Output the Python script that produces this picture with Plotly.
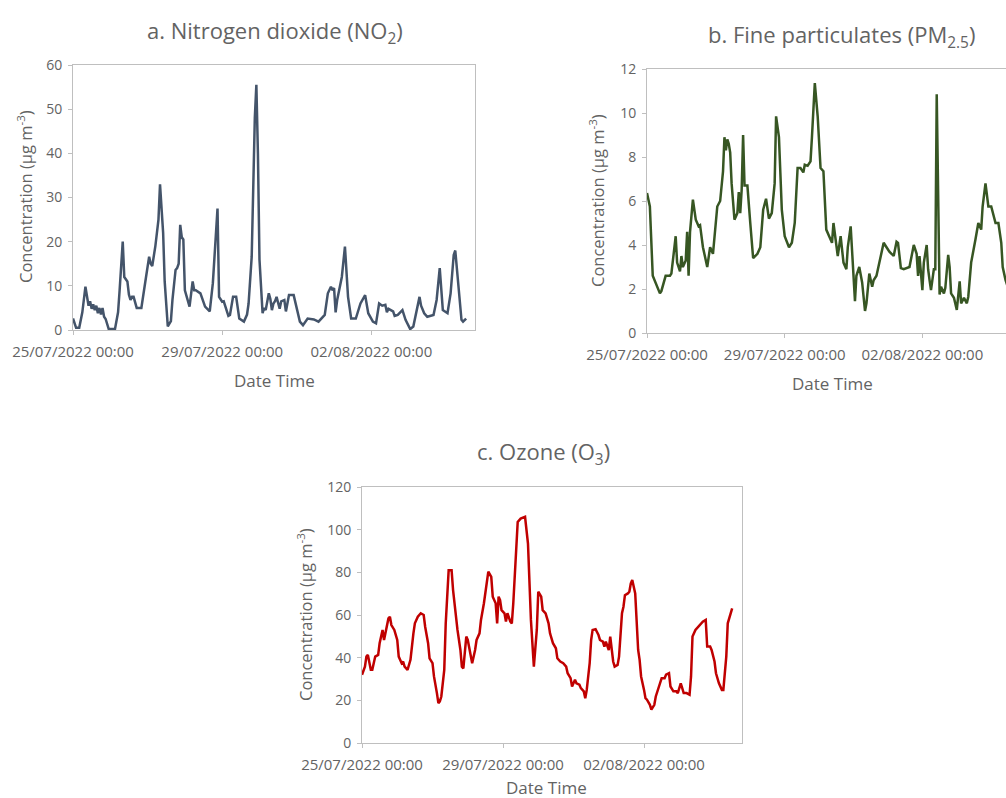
import pandas as pd
import plotly.graph_objects as go

W, H = 1006, 798
BASE = pd.Timestamp("2022-07-25 00:00")

# ---------------- data (hours after 25/07/2022 00:00, concentration µg m-3) ----------------
no2_hours = [0,2,4,6,8,9,10,11,12,13,14,15,16,17,18,19,20,21,22,23,27,29,30,32,33,35,36,37,38,39,41,44,47,49,50,51,53,55,56,57,58,59,61,63,64,66,67,68,69,70,71,72,75,77,78,79,82,85,88,90,92,93,94,96,97,99,100,101,103,105,107,110,112,113,115,117,118,119,120,122,123,124,125,126,127,128,129,130,131,132,133,134,136,137,139,142,144,146,148,151,155,158,162,164,166,167,168,169,170,173,175,177,179,182,185,188,190,193,195,197,199,201,202,203,206,207,209,212,214,217,219,221,223,224,226,228,232,234,236,238,241,243,245,246,248,250,251,253]
no2_values = [2.6,0.5,0.5,4,9.8,8,5.5,6.5,4.8,5.8,4.5,5.5,3.8,5,3.5,5,3,2.5,1.2,0.2,0.2,4,9,20,12,11,8,6.8,7.5,7.5,5,5,12,16.6,15,14.5,19,25,33,26,22,11,0.8,2,6.8,13.6,14,15,23.8,21,20.5,9,5.3,11,9,9,8.3,5.3,4.2,10.6,22,27.5,7.5,6.4,6.5,4.5,3.2,3.4,7.5,7.5,2.6,1.9,3.5,6,16.6,48,55.5,40,16,3.8,5,4.5,7,8.3,7,4.5,6,6.5,7.5,6,4.8,6.5,6.8,4.2,7.9,7.9,4.5,1.9,1.1,2.6,2.4,1.9,3.4,8.3,9.8,9,9.5,4,6.8,12,18.9,7.5,2.6,2.6,6,7.9,3.8,1.9,1.5,6,5.5,5.7,4,4.8,4.2,3.2,3.4,4.5,2.3,0.2,0.8,4.5,7.5,5.5,3.8,3,3.4,6.8,14,4.5,3.8,8.3,17,18,10.6,2.3,1.9,2.6]

pm25_hours = [0,2,4,6,9,10,13,16,17,20,21,23,24,25,27,28,29,30,32,34,36,37,39,42,44,46,49,51,53,54,55,56,57,58,59,61,63,64,65,66,67,68,70,72,74,77,79,81,83,85,87,89,90,92,94,96,99,101,103,105,107,109,110,112,114,115,117,119,121,123,124,125,127,129,130,132,133,135,137,139,140,142,143,145,146,148,150,152,153,155,157,158,160,162,165,167,169,172,174,175,177,179,181,183,186,188,189,190,192,193,195,196,197,198,200,201,202,204,205,207,208,210,211,212,214,216,218,219,221,223,224,226,229,231,233,234,236,238,240,243,245,247,248,250,252]
pm25_values = [6.36,5.75,2.6,2.3,1.8,1.9,2.6,2.6,2.7,4.4,3.2,2.8,3.5,3.0,3.3,4.6,2.6,4.6,6.06,5.15,4.85,4.9,3.9,3.0,3.9,3.6,5.75,6.0,7.35,8.9,8.3,8.8,8.6,8.2,6.8,5.15,5.45,6.4,5.45,6.5,9.0,6.7,6.7,5.0,3.4,3.6,3.9,5.6,6.1,5.2,5.45,6.8,9.85,8.9,5.6,4.4,3.9,4.1,5.0,7.5,7.5,7.3,7.65,7.6,7.8,8.9,11.36,9.85,7.5,7.35,5.75,4.7,4.4,4.1,5.0,3.8,3.5,4.4,3.2,2.9,3.9,4.85,3.8,1.45,2.6,3.0,2.3,1.0,1.35,2.7,2.1,2.4,2.6,3.2,4.1,3.9,3.7,3.5,4.15,4.1,2.95,2.9,2.95,3.0,4.0,3.6,2.6,3.5,1.95,3.2,4.0,2.9,2.4,1.95,2.9,2.9,10.85,1.75,2.1,1.8,2.05,3.55,3.0,1.8,1.6,1.05,2.35,1.35,1.6,1.35,1.65,3.2,4.25,5.0,4.7,5.75,6.8,5.75,5.75,5.0,5.0,4.1,3.0,2.4,2.0]

o3_hours = [0,2,3,4,6,7,9,11,12,14,15,17,18,19,20,22,24,25,27,28,29,31,32,33,35,36,38,40,42,43,45,46,48,49,51,52,53,54,56,57,59,61,62,64,65,67,68,69,71,72,74,75,77,78,80,81,83,85,86,88,89,91,92,93,94,95,97,98,99,101,102,103,105,106,108,110,111,113,114,115,117,119,120,122,123,125,127,128,130,132,133,135,137,139,140,142,143,145,146,148,149,151,152,153,155,156,157,159,161,162,164,165,166,168,169,170,171,172,174,175,177,178,179,181,182,183,184,186,187,188,189,190,192,193,194,196,197,199,200,202,204,206,207,209,210,212,214,215,217,218,219,221,223,224,225,227,229,231,232,234,235,237,238,240,241,243,245,246,248,249,251,252]
o3_values = [32,35.8,40.5,41.3,34.3,34.3,40.5,41.3,46.8,53,48.3,54.5,58.4,59.2,55.3,53,48.3,40.5,37.4,38.2,35.8,34.3,37.4,39,51.4,56.1,59.2,60.8,60,54.5,46.8,39.7,37.4,31.2,23.4,18.7,19.5,21.8,34.3,56.1,81,81,71.7,57.7,53,43.6,35.8,35,49.9,48.3,40.5,37.4,43.6,48.3,51.4,57.7,65.5,74.8,80.3,77.9,68.6,65.5,56.1,68.6,67,62.3,60.8,56.9,60.8,56.9,56.1,65.5,93.5,103.6,105.2,106,106,93.5,77.9,57.7,35.8,53,70.9,68.6,62.3,60.8,56.1,51.4,46.8,44.4,39.7,38.2,37.4,35.8,32.7,30.4,26.5,29.6,28,27.3,25.7,24.2,21,24.9,37.4,48.3,53,53.3,50.6,48.3,47.5,45.2,47.5,43.6,49.9,42.9,38.2,35.8,36.6,40.5,60.8,63.9,69.3,70.1,70.9,74.8,76.4,70.1,57.7,43.6,39,31.2,24.9,21,20.3,17.9,15.6,17.9,21.8,26.5,30.4,30.4,32,32.7,26.5,24.2,24.2,23.4,28,25.7,23.4,23.4,22.6,31.2,49.9,53,54.5,56.1,56.9,57.7,45.2,45.2,43.6,38.2,32.7,28,24.9,24.9,40.5,56.1,60.8,63.1]

tick_dates = ["2022-07-25", "2022-07-29", "2022-08-02"]
tick_labels = ["25/07/2022 00:00", "29/07/2022 00:00", "02/08/2022 00:00"]

def to_dates(hours):
    return BASE + pd.to_timedelta(hours, unit="h")

FONT = "'Open Sans', Lato, sans-serif"
GREY = "#636363"
BORDER = "#BFBFBF"

def px(x):
    return x / W

def py(y):
    return 1 - y / H

fig = go.Figure()

panels = [
    # name, hours, values, color, xaxis, yaxis, xdomain px, ydomain px, yrange, dtick, xend hours, right border
    ("NO2", no2_hours, no2_values, "#44546A", "x", "y", (73, 475), (65, 330), (0, 60), 10, 258.7, True),
    ("PM2.5", pm25_hours, pm25_values, "#375623", "x2", "y2", (647, 1006), (69, 333), (0, 12), 2, 250.3, False),
    ("O3", o3_hours, o3_values, "#C00000", "x3", "y3", (362, 742), (487, 743), (0, 120), 20, 258.7, True),
]

layout_axes = {}
for i, (name, hrs, vals, col, xa, ya, xd, yd, yr, dt, xend, rb) in enumerate(panels):
    fig.add_trace(go.Scatter(x=to_dates(hrs), y=vals, mode="lines", name=name,
                             line=dict(color=col, width=2.5), xaxis=xa, yaxis=ya,
                             showlegend=False, cliponaxis=True))
    sx = "" if i == 0 else str(i + 1)
    layout_axes["xaxis" + sx] = dict(
        domain=[px(xd[0]), px(xd[1])], anchor=ya, automargin=False,
        range=[BASE, BASE + pd.Timedelta(hours=xend)],
        tickvals=pd.to_datetime(tick_dates), ticktext=tick_labels,
        showline=True, linecolor=BORDER, linewidth=1, mirror=True,
        ticks="outside", ticklen=4, tickcolor=BORDER,
        showgrid=False, zeroline=False,
        tickfont=dict(family=FONT, size=15, color=GREY),
        ticklabelstandoff=4,
    )
    layout_axes["yaxis" + sx] = dict(
        domain=[py(yd[1]), py(yd[0])], anchor=xa, automargin=False,
        range=list(yr), dtick=dt,
        showline=True, linecolor=BORDER, linewidth=1, mirror=rb,
        ticks="outside", ticklen=4, tickcolor=BORDER,
        showgrid=False, zeroline=False,
        tickfont=dict(family=FONT, size=14, color=GREY),
        ticklabelstandoff=3,
    )

fig.update_layout(**layout_axes)

ann = []
titles = [
    ("a. Nitrogen dioxide (NO<sub>2</sub>)", 275, 32),
    ("b. Fine particulates (PM<sub>2.5</sub>)", 841, 36),
    ("c. Ozone (O<sub>3</sub>)", 543, 453),
]
for t, x, y in titles:
    ann.append(dict(text=t, x=px(x), y=py(y), xref="paper", yref="paper",
                    xanchor="center", yanchor="middle", showarrow=False,
                    font=dict(family=FONT, size=22, color=GREY)))
ylabels = [(25, 197), (597, 201), (305, 615)]
for x, y in ylabels:
    ann.append(dict(text="Concentration (μg m<sup>-3</sup>)", x=px(x), y=py(y),
                    xref="paper", yref="paper", xanchor="center", yanchor="middle",
                    textangle=-90, showarrow=False,
                    font=dict(family=FONT, size=16.5, color=GREY)))
xlabels = [(274, 380), (832, 383), (546, 787)]
for x, y in xlabels:
    ann.append(dict(text="Date Time", x=px(x), y=py(y), xref="paper", yref="paper",
                    xanchor="center", yanchor="middle", showarrow=False,
                    font=dict(family=FONT, size=17, color=GREY)))

fig.update_layout(
    width=W, height=H,
    margin=dict(l=0, r=0, t=0, b=0, autoexpand=False),
    paper_bgcolor="white", plot_bgcolor="white",
    annotations=ann,
    font=dict(family=FONT, color=GREY),
)

fig.write_html("out.html")
